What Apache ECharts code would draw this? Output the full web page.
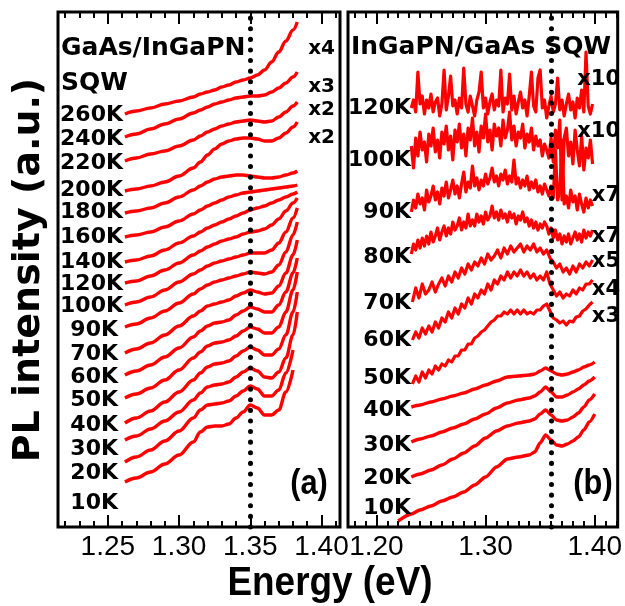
<!DOCTYPE html>
<html><head><meta charset="utf-8">
<script src="https://cdn.jsdelivr.net/npm/echarts@6/dist/echarts.min.js"></script>
<style>html,body{margin:0;padding:0;background:#fff}#c{width:625px;height:606px}</style>
</head><body><div id="c"></div>
<script>
// ---------- Panel (a): GaAs/InGaPN SQW ----------
const energyA = [1.262,1.27,1.28,1.29,1.30,1.31,1.315,1.32,1.325,1.33,1.335,1.34,1.345,1.35,1.355,1.36,1.365,1.37,1.375,1.38,1.383];
const tempsA = ['260K','240K','220K','200K','180K','160K','140K','120K','100K','90K','70K','60K','50K','40K','30K','20K','10K'];
const multA = ['x4','x3','x2','x2'];
const plA_260K = [486,489,492,496,499,503,506,508,510,513,515,518,520,522,525,530,538,548,559,570,578];
const plA_240K = [463,466,471,476,481,487,490,493,496,498,500,502,503,504,504,505,508,512,517,523,528];
const plA_220K = [439,442,446,449,454,460,464,468,471,474,476,478,479,480,479,478,479,483,488,494,498];
const plA_200K = [409,411,414,418,424,432,438,445,451,456,459,461,462,462,461,459,459,462,467,473,478];
const plA_180K = [387,389,392,397,403,410,414,418,421,423,424,425,425,424,423,422,422,423,425,427,429];
const plA_160K = [363,365,368,373,379,386,390,394,397,400,403,405,407,408,409,410,411,412,413,414,415];
const plA_140K = [338,340,344,350,357,364,368,372,375,378,381,384,387,390,392,394,397,400,403,406,408];
const plA_120K = [317,319,324,330,337,345,349,353,356,359,361,363,366,368,369,371,375,381,389,397,402];
const plA_100K = [295,298,303,310,318,326,330,334,337,339,341,343,345,347,347,347,350,357,368,382,392];
const plA_90K  = [273,276,282,289,297,306,311,315,318,320,322,324,326,328,327,326,328,335,348,365,378];
const plA_70K  = [247,251,257,265,274,284,289,294,296,298,300,304,307,310,308,306,307,314,327,345,360];
const plA_60K  = [225,229,235,243,252,263,269,274,277,278,280,285,289,293,291,288,288,295,308,327,342];
const plA_50K  = [202,206,212,220,230,242,248,254,257,258,260,264,269,273,271,267,267,273,288,310,328];
const plA_40K  = [177,182,189,198,208,220,227,233,236,237,239,244,249,253,250,245,245,251,265,288,308];
const plA_30K  = [160,164,171,179,188,200,207,213,215,216,218,223,228,232,229,223,222,228,242,265,288];
const plA_20K  = [138,143,150,159,169,182,190,195,196,197,199,204,209,214,211,204,204,210,227,250,null];
const plA_10K  = [118,122,128,136,145,158,168,173,174,174,176,182,188,195,192,185,185,190,208,230,null];
const curvesA = [plA_260K,plA_240K,plA_220K,plA_200K,plA_180K,plA_160K,plA_140K,plA_120K,plA_100K,plA_90K,plA_70K,plA_60K,plA_50K,plA_40K,plA_30K,plA_20K,plA_10K];
const ticksMajorA = [1.25,1.30,1.35,1.40];
const ticksMinorA = [1.22,1.23,1.24,1.26,1.27,1.28,1.29,1.31,1.32,1.33,1.34,1.36,1.37,1.38,1.39,1.41];
const dottedA = 1.3505;

// ---------- Panel (b): InGaPN/GaAs SQW ----------
const energyB = [1.22,1.232,1.24,1.25,1.26,1.27,1.28,1.29,1.30,1.31,1.32,1.33,1.34,1.345,1.35,1.355,1.36,1.365,1.37,1.375,1.38,1.385,1.39,1.395,1.40];
const energyBn = [1.233,1.236,1.239,1.242,1.245,1.248,1.251,1.254,1.257,1.260,1.263,1.266,1.269,1.272,1.275,1.278,1.281,1.284,1.287,1.290,1.293,1.296,1.299,1.302,1.305,1.308,1.311,1.314,1.317,1.320,1.323,1.326,1.329,1.332,1.335,1.338,1.341,1.344,1.347,1.350,1.353,1.356,1.359,1.362,1.365,1.368,1.371,1.374,1.377,1.380,1.383,1.386,1.389,1.392,1.395,1.398];
const energyBf = [1.232,1.234,1.236,1.238,1.240,1.242,1.244,1.246,1.248,1.250,1.252,1.254,1.256,1.258,1.260,1.262,1.264,1.266,1.268,1.270,1.272,1.274,1.276,1.278,1.280,1.282,1.284,1.286,1.288,1.290,1.292,1.294,1.296,1.298,1.300,1.302,1.304,1.306,1.308,1.310,1.312,1.314,1.316,1.318,1.320,1.322,1.324,1.326,1.328,1.330,1.332,1.334,1.336,1.338,1.340,1.342,1.344,1.346,1.348,1.350,1.352,1.354,1.356,1.358,1.360,1.362,1.364,1.366,1.368,1.370,1.372,1.374,1.376,1.378,1.380,1.382,1.384,1.386,1.388,1.390,1.392,1.394,1.396,1.398];
const tempsB = ['120K','100K','90K','80K','70K','60K','50K','40K','30K','20K','10K'];
const multB = ['x10','x10','x7','x7','x5','x4','x3'];
const plB_120K = [492,500,488,528,496,504,486,500,492,506,488,498,502,484,496,530,490,504,524,494,500,486,502,492,532,496,488,504,494,484,500,508,528,492,502,486,498,506,490,500,494,530,488,502,496,526,490,504,486,498,508,492,500,484,504,528,494,488,522,530,492,500,482,494,504,488,496,522,490,500,484,496,506,490,498,482,502,492,510,488,548,494,486,496];
const plB_100K = [454,432,462,444,468,450,458,438,466,454,472,448,460,442,468,456,474,450,464,440,470,458,476,452,466,444,472,460,482,454,468,448,474,462,486,458,470,450,476,464,472,454,480,462,470,488,460,474,454,468,462,476,452,466,458,472,450,464,454,460,444,456,450,442,462,438,470,452,480,400,462,472,444,458,436,470,450,434,464,430,452,442,460,436];
const plB_90K  = [388,400,392,406,396,402,390,410,398,404,414,400,408,396,412,404,418,402,410,420,406,414,402,416,428,408,418,412,434,414,422,410,420,414,426,416,422,432,418,424,414,426,420,430,416,424,418,440,416,422,412,420,414,424,410,418,412,420,408,414,406,416,410,404,414,402,450,400,408,460,396,404,392,410,398,404,390,406,396,388,402,392,400,394];
const plB_80K  = [346,356,350,360,352,362,354,364,356,368,358,364,372,360,368,374,364,372,366,378,370,374,382,370,378,372,386,374,380,374,386,378,384,376,388,380,384,394,382,388,380,390,382,386,378,388,382,386,376,384,380,388,378,382,374,380,372,378,370,376,372,378,374,366,372,362,370,360,366,356,364,358,366,356,362,368,360,366,358,370,362,368,364,370];
const plB_70K  = [298,312,302,316,306,310,318,308,316,322,314,324,318,328,322,332,326,336,330,338,334,342,336,346,340,344,350,342,352,346,354,348,352,356,348,354,350,356,348,352,346,350,342,338,332,336,328,332,326,334,328,336,332,338,334,340];
const plB_60K  = [260,268,262,272,266,274,268,278,272,282,278,288,282,292,286,296,292,302,296,306,302,310,306,316,310,320,316,324,320,328,322,328,324,330,324,328,322,326,320,324,320,328,316,310,304,308,302,306,304,310,306,312,310,316,316,320];
const plB_50K  = [216,224,218,228,222,230,226,234,230,236,234,240,238,244,244,250,250,256,256,262,264,268,270,274,278,280,284,284,288,286,290,286,290,286,290,286,288,286,290,290,294,296,289,282,280,277,279,275,279,278,283,284,289,291,295,298];
const plB_40K  = [null,193,195,198,201,204,207,211,215,219,223,224,225,226,229,232,229,226,225,226,228,230,233,235,238];
const plB_30K  = [null,158,161,164,168,172,176,181,186,192,197,200,202,204,208,213,208,203,203,205,208,211,215,219,223];
const plB_20K  = [null,123,126,130,135,141,147,154,162,169,174,177,179,181,186,190,185,180,179,180,183,187,193,200,206];
const plB_10K  = [79,86,90,94,99,103,108,115,123,133,141,143,145,148,157,165,160,155,154,156,159,163,170,178,186];
const fineNoisyB = [plB_120K,plB_100K,plB_90K,plB_80K];
const noisyB = [plB_70K,plB_60K,plB_50K];
const smoothB = [plB_40K,plB_30K,plB_20K,plB_10K];
const ticksMajorB = [1.20,1.30,1.40];
const ticksMinorB = [1.18,1.19,1.21,1.22,1.23,1.24,1.25,1.26,1.27,1.28,1.29,1.31,1.32,1.33,1.34,1.35,1.36,1.37,1.38,1.39,1.41,1.42];
const dottedB = 1.356;

// ---------- build ----------
const RED = '#ff0000';
const sans = '"Liberation Sans",Arial,sans-serif';
const wide = '"DejaVu Sans",sans-serif';
function pairs(xs, ys){ const out=[]; ys.forEach((v,i)=>{ if(v!==null) out.push([xs[i], v]); }); return out; }
function xAx(grid, min, max, pos, ticks, len, labels){
  return {type:'value', gridIndex:grid, min:min, max:max, position:pos,
    axisLine:{show:false}, splitLine:{show:false},
    axisTick:{show:true, inside:true, length:len, customValues:ticks, lineStyle:{color:'#000', width:2}},
    axisLabel: labels ? {show:true, customValues:ticks, formatter:v=>v.toFixed(2), color:'#000', fontFamily:sans, fontSize:28, margin:6} : {show:false}
  };
}
const xAxes = [
  xAx(0,1.215,1.413,'bottom',ticksMajorA,12,true),
  xAx(0,1.215,1.413,'bottom',ticksMinorA,6,false),
  xAx(0,1.215,1.413,'top',ticksMajorA,12,false),
  xAx(0,1.215,1.413,'top',ticksMinorA,6,false),
  xAx(1,1.174,1.421,'bottom',ticksMajorB,12,true),
  xAx(1,1.174,1.421,'bottom',ticksMinorB,6,false),
  xAx(1,1.174,1.421,'top',ticksMajorB,12,false),
  xAx(1,1.174,1.421,'top',ticksMinorB,6,false)
];
const yAxes = [0,1].map(g=>({type:'value', gridIndex:g, min:73, max:588, show:false}));
const dotStyle = {color:'#000', width:5, type:[0.1,10.5], cap:'round'};
const series = [];
curvesA.forEach((c,i)=>{
  const s = {type:'line', xAxisIndex:0, yAxisIndex:0, data:pairs(energyA,c), symbol:'none', smooth:0.35, smoothMonotone:'x',
    lineStyle:{color:RED, width:3.4}, silent:true, z:2};
  if(i===curvesA.length-1) s.markLine = {symbol:'none', silent:true, label:{show:false}, lineStyle:dotStyle, data:[{xAxis:dottedA}], animation:false};
  series.push(s);
});
fineNoisyB.forEach(c=>{
  series.push({type:'line', xAxisIndex:4, yAxisIndex:1, data:pairs(energyBf,c), symbol:'none', smooth:false,
    lineStyle:{color:RED, width:3.2, join:'round'}, silent:true, z:2});
});
noisyB.forEach(c=>{
  series.push({type:'line', xAxisIndex:4, yAxisIndex:1, data:pairs(energyBn,c), symbol:'none', smooth:false,
    lineStyle:{color:RED, width:3.2, join:'round'}, silent:true, z:2});
});
smoothB.forEach((c,i)=>{
  const s = {type:'line', xAxisIndex:4, yAxisIndex:1, data:pairs(energyB,c), symbol:'none', smooth:0.25, smoothMonotone:'x',
    lineStyle:{color:RED, width:3.4}, silent:true, z:2};
  if(i===smoothB.length-1) s.markLine = {symbol:'none', silent:true, label:{show:false}, lineStyle:dotStyle, data:[{xAxis:dottedB}], animation:false};
  series.push(s);
});

function txt(t, x, y, font, align, extra){
  return Object.assign({type:'text', x:x, y:y, z:10, silent:true,
    style:{text:t, fill:'#000', font:font, textAlign:align||'left', textVerticalAlign:'middle', align:align||'left', verticalAlign:'middle'}}, extra||{});
}
const tA_pos = [[123,115],[123,139],[123,163],[123,190],[123,212],[123,237],[123,262],[123,284],[123,306],[118,330],[118,354],[118,377],[118,400],[118,425],[118,449],[118,473],[118,503]];
const mA_pos = [49,87,110,138];
const tB_pos = [108,160,212,257,303,340,378,410,445,478,508];
const mB_pos = [80,132,196,237,262,290,317];
const gfx = [];
tempsA.forEach((t,i)=>gfx.push(txt(t, tA_pos[i][0], tA_pos[i][1], 'bold 22px '+wide, 'right')));
multA.forEach((t,i)=>gfx.push(txt(t, 335, mA_pos[i], 'bold 20px '+wide, 'right')));
tempsB.forEach((t,i)=>gfx.push(txt(t, 411, tB_pos[i], 'bold 22px '+wide, 'right')));
multB.forEach((t,i)=>gfx.push(txt(t, 620, mB_pos[i], 'bold 21px '+wide, 'right')));
gfx.push(txt('GaAs/InGaPN', 61, 48, 'bold 25px '+wide, 'left'));
gfx.push(txt('SQW', 61, 83, 'bold 25px '+wide, 'left'));
gfx.push(txt('InGaPN/GaAs SQW', 351, 47, 'bold 25px '+wide, 'left'));
gfx.push(txt('(a)', 309, 484, 'bold 35px '+sans, 'center', {scaleX:0.88}));
gfx.push(txt('(b)', 593, 484, 'bold 35px '+sans, 'center', {scaleX:0.88}));
gfx.push(txt('Energy (eV)', 330, 584, 'bold 41px '+sans, 'center', {scaleX:0.9}));
gfx.push(txt('PL intensity (a.u.)', 29, 270, 'bold 38px '+wide, 'center', {rotation:Math.PI/2}));

const chart = echarts.init(document.getElementById('c'), null, {renderer:'canvas'});
chart.setOption({
  animation:false,
  backgroundColor:'#fff',
  grid:[
    {left:58, top:12, width:282, height:515, show:true, borderColor:'#000', borderWidth:3, containLabel:false},
    {left:348, top:12, width:272, height:515, show:true, borderColor:'#000', borderWidth:3, containLabel:false}
  ],
  xAxis:xAxes, yAxis:yAxes, series:series, graphic:{elements:gfx}
});
</script></body></html>
